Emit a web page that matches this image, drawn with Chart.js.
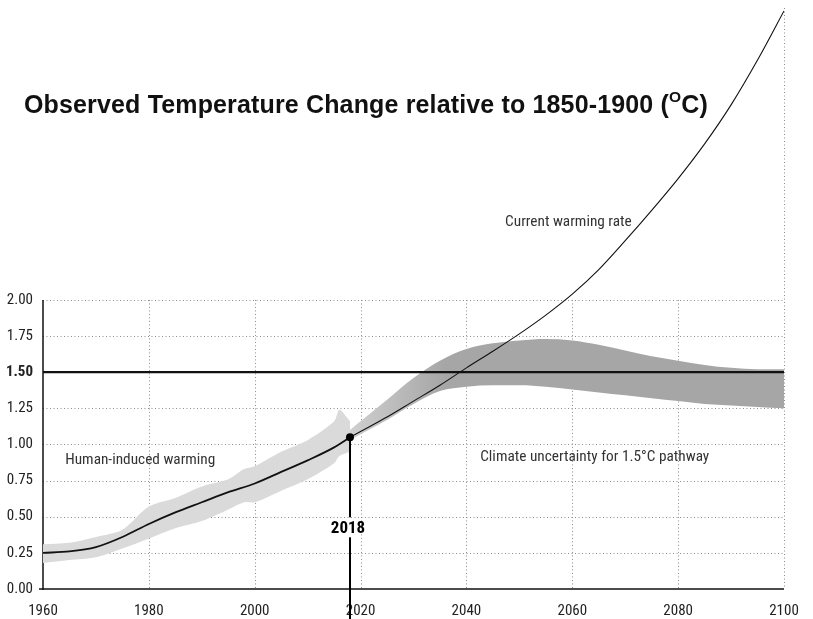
<!DOCTYPE html>
<html>
<head>
<meta charset="utf-8">
<script src="https://cdn.jsdelivr.net/npm/chart.js@4.4.1/dist/chart.umd.min.js"></script>
<style>
  body { margin: 0; background: #fff; }
  #wrap { position: relative; width: 813px; height: 619px; }
  #title {
    position: absolute; left: 24px; top: 92px;
    font: bold 25px "Liberation Sans", Arial, sans-serif; line-height: 25px;
    letter-spacing: 0.15px; color: #111; white-space: nowrap;
  }
  #title sup { font-size: 0.62em; line-height: 0; position: relative; top: -0.1em; }
</style>
</head>
<body>
<div id="wrap">
  <canvas id="chart" width="813" height="619"></canvas>
  <div id="title">Observed Temperature Change relative to 1850-1900 (<sup>O</sup>C)</div>
</div>
<script>
const xTicks = [1960, 1980, 2000, 2020, 2040, 2060, 2080, 2100];
const yTicks = [0, 0.25, 0.5, 0.75, 1, 1.25, 1.5, 1.75, 2];

// observed human-induced warming (thick part of the curve)
const obsYears = [1960, 1965, 1970, 1975, 1980, 1985, 1990, 1995, 2000, 2005, 2010, 2015, 2018];
const obsWarming = [0.25, 0.26, 0.29, 0.36, 0.45, 0.53, 0.60, 0.67, 0.73, 0.81, 0.89, 0.98, 1.05];

// spread of the monthly observations around it
const spreadYears = [1960, 1965, 1970, 1975, 1980, 1985, 1990, 1995, 1998, 2000, 2005, 2010, 2015, 2016, 2018];
const spreadHigh = [0.31, 0.32, 0.36, 0.41, 0.57, 0.63, 0.71, 0.76, 0.83, 0.85, 0.95, 1.03, 1.16, 1.24, 1.16];
const spreadLow = [0.18, 0.20, 0.22, 0.28, 0.35, 0.42, 0.47, 0.55, 0.60, 0.60, 0.68, 0.76, 0.87, 0.92, 0.95];

// current warming rate continued
const projYears = [2018, 2020, 2025, 2030, 2035, 2040, 2045, 2050, 2055, 2060, 2065, 2070, 2075, 2080, 2085, 2090, 2095, 2100];
const projWarming = [1.05, 1.09, 1.19, 1.30, 1.41, 1.53, 1.645, 1.765, 1.895, 2.04, 2.21, 2.41, 2.62, 2.84, 3.08, 3.35, 3.66, 4.00];

// climate uncertainty for 1.5C pathway
const bandYears = [2018, 2020, 2025, 2030, 2035, 2040, 2045, 2050, 2055, 2060, 2065, 2070, 2075, 2080, 2085, 2090, 2095, 2100];
const bandHigh = [1.10, 1.16, 1.31, 1.46, 1.58, 1.66, 1.70, 1.72, 1.73, 1.72, 1.69, 1.65, 1.61, 1.58, 1.55, 1.53, 1.52, 1.52];
const bandLow = [1.03, 1.07, 1.17, 1.28, 1.37, 1.40, 1.41, 1.41, 1.40, 1.38, 1.36, 1.34, 1.32, 1.30, 1.28, 1.27, 1.26, 1.25];

const targetLevel = 1.5;
const markerYear = 2018;
const markerValue = 1.05;

const labelFont = '"Liberation Sans Narrow", "Roboto Condensed", "DejaVu Sans Condensed", sans-serif';

function pts(xs, ys) {
  return xs.map((x, i) => ({ x: x, y: ys[i] }));
}

function bandColor(ctx) {
  const chart = ctx.chart;
  if (!chart.chartArea) return '#a8a8a8';
  const xs = chart.scales.x;
  const g = chart.ctx.createLinearGradient(xs.getPixelForValue(2018), 0, xs.getPixelForValue(2036), 0);
  g.addColorStop(0, '#cfcfcf');
  g.addColorStop(1, '#a6a6a6');
  return g;
}

function line(ctx, x1, y1, x2, y2) {
  ctx.beginPath();
  ctx.moveTo(x1, y1);
  ctx.lineTo(x2, y2);
  ctx.stroke();
}

const overlay = {
  id: 'overlay',
  beforeDatasetsDraw(chart) {
    const { ctx, scales: { x, y } } = chart;
    const left = x.getPixelForValue(1960), right = x.getPixelForValue(2100);
    const top2 = y.getPixelForValue(2), bottom = y.getPixelForValue(0);
    ctx.save();
    ctx.strokeStyle = '#8c8c8c';
    ctx.lineWidth = 1;
    ctx.setLineDash([1, 2.5]);
    yTicks.forEach(v => {
      if (v === 0 || v === targetLevel) return;
      const py = Math.round(y.getPixelForValue(v)) + 0.5;
      line(ctx, left, py, right, py);
    });
    xTicks.forEach(v => {
      if (v === 1960) return;
      const px = Math.round(x.getPixelForValue(v)) + 0.5;
      line(ctx, px, v === 2100 ? chart.chartArea.top : top2, px, bottom);
    });
    ctx.setLineDash([]);
    ctx.strokeStyle = '#111';
    ctx.lineWidth = 1.5;
    line(ctx, left, top2, left, bottom + 1);
    line(ctx, left - 4, bottom, right, bottom);
    ctx.restore();
  },
  afterDatasetsDraw(chart) {
    const { ctx, scales: { x, y } } = chart;
    ctx.save();
    // 2018 marker
    const px = x.getPixelForValue(markerYear);
    const py = y.getPixelForValue(markerValue);
    const ly = y.getPixelForValue(0.42);
    ctx.strokeStyle = '#000';
    ctx.lineWidth = 2;
    line(ctx, px, py, px, ly - 11);
    line(ctx, px, ly + 9, px, chart.height);
    ctx.fillStyle = '#000';
    ctx.font = 'bold 17px ' + labelFont;
    ctx.textAlign = 'center';
    ctx.textBaseline = 'middle';
    ctx.fillText('2018', px - 2, ly);

    ctx.font = '15.3px ' + labelFont;
    ctx.fillStyle = '#333';
    ctx.textAlign = 'left';
    ctx.fillText('Human-induced warming', x.getPixelForValue(1964.2), y.getPixelForValue(0.89));
    ctx.fillText('Climate uncertainty for 1.5°C pathway', x.getPixelForValue(2042.6), y.getPixelForValue(0.91));
    ctx.fillText('Current warming rate', x.getPixelForValue(2047.3), y.getPixelForValue(2.54));
    ctx.restore();
  }
};

new Chart(document.getElementById('chart'), {
  type: 'line',
  data: {
    datasets: [
      { data: pts(spreadYears, spreadLow), borderWidth: 0, pointRadius: 0, fill: false, order: 8, tension: 0.3 },
      { data: pts(spreadYears, spreadHigh), borderWidth: 0, pointRadius: 0, fill: '-1', backgroundColor: '#dadada', order: 8, tension: 0.3 },
      { data: pts(bandYears, bandLow), borderWidth: 0, pointRadius: 0, fill: false, order: 7, cubicInterpolationMode: 'monotone' },
      { data: pts(bandYears, bandHigh), borderWidth: 0, pointRadius: 0, fill: '-1', backgroundColor: bandColor, order: 7, cubicInterpolationMode: 'monotone' },
      { data: [{ x: 1960, y: targetLevel }, { x: 2100, y: targetLevel }], borderColor: '#111', borderWidth: 2.2, pointRadius: 0, order: 2 },
      { data: pts(obsYears, obsWarming), borderColor: '#111', borderWidth: 1.8, pointRadius: 0, order: 1, cubicInterpolationMode: 'monotone' },
      { data: pts(projYears, projWarming), borderColor: '#111', borderWidth: 1.1, pointRadius: 0, order: 1, cubicInterpolationMode: 'monotone' },
      { data: [{ x: markerYear, y: markerValue }], pointRadius: 4, pointBackgroundColor: '#000', pointBorderWidth: 0, showLine: false, order: 0 }
    ]
  },
  options: {
    responsive: false,
    animation: false,
    layout: { padding: { top: 8, right: 29, left: 0, bottom: 0 } },
    plugins: { legend: { display: false }, tooltip: { enabled: false }, title: { display: false } },
    scales: {
      x: {
        type: 'linear', min: 1960, max: 2100,
        grid: { display: false, drawTicks: false },
        border: { display: false },
        afterBuildTicks: s => { s.ticks = xTicks.map(v => ({ value: v })); },
        afterFit: s => { s.height = 30; s.paddingLeft = 0; s.paddingRight = 0; },
        ticks: { padding: 13, color: '#222', font: { family: labelFont, size: 15 }, callback: v => String(v), maxRotation: 0 }
      },
      y: {
        type: 'linear', min: 0, max: 4.02,
        grid: { display: false, drawTicks: false },
        border: { display: false },
        afterBuildTicks: s => { s.ticks = yTicks.map(v => ({ value: v })); },
        afterFit: s => { s.width = 43; s.paddingTop = 0; s.paddingBottom = 0; },
        ticks: {
          padding: 10, color: '#222',
          font: ctx => ({ family: labelFont, size: 15, weight: ctx.tick && ctx.tick.value === targetLevel ? 'bold' : 'normal' }),
          callback: v => Number(v).toFixed(2)
        }
      }
    }
  },
  plugins: [overlay]
});
</script>
</body>
</html>
